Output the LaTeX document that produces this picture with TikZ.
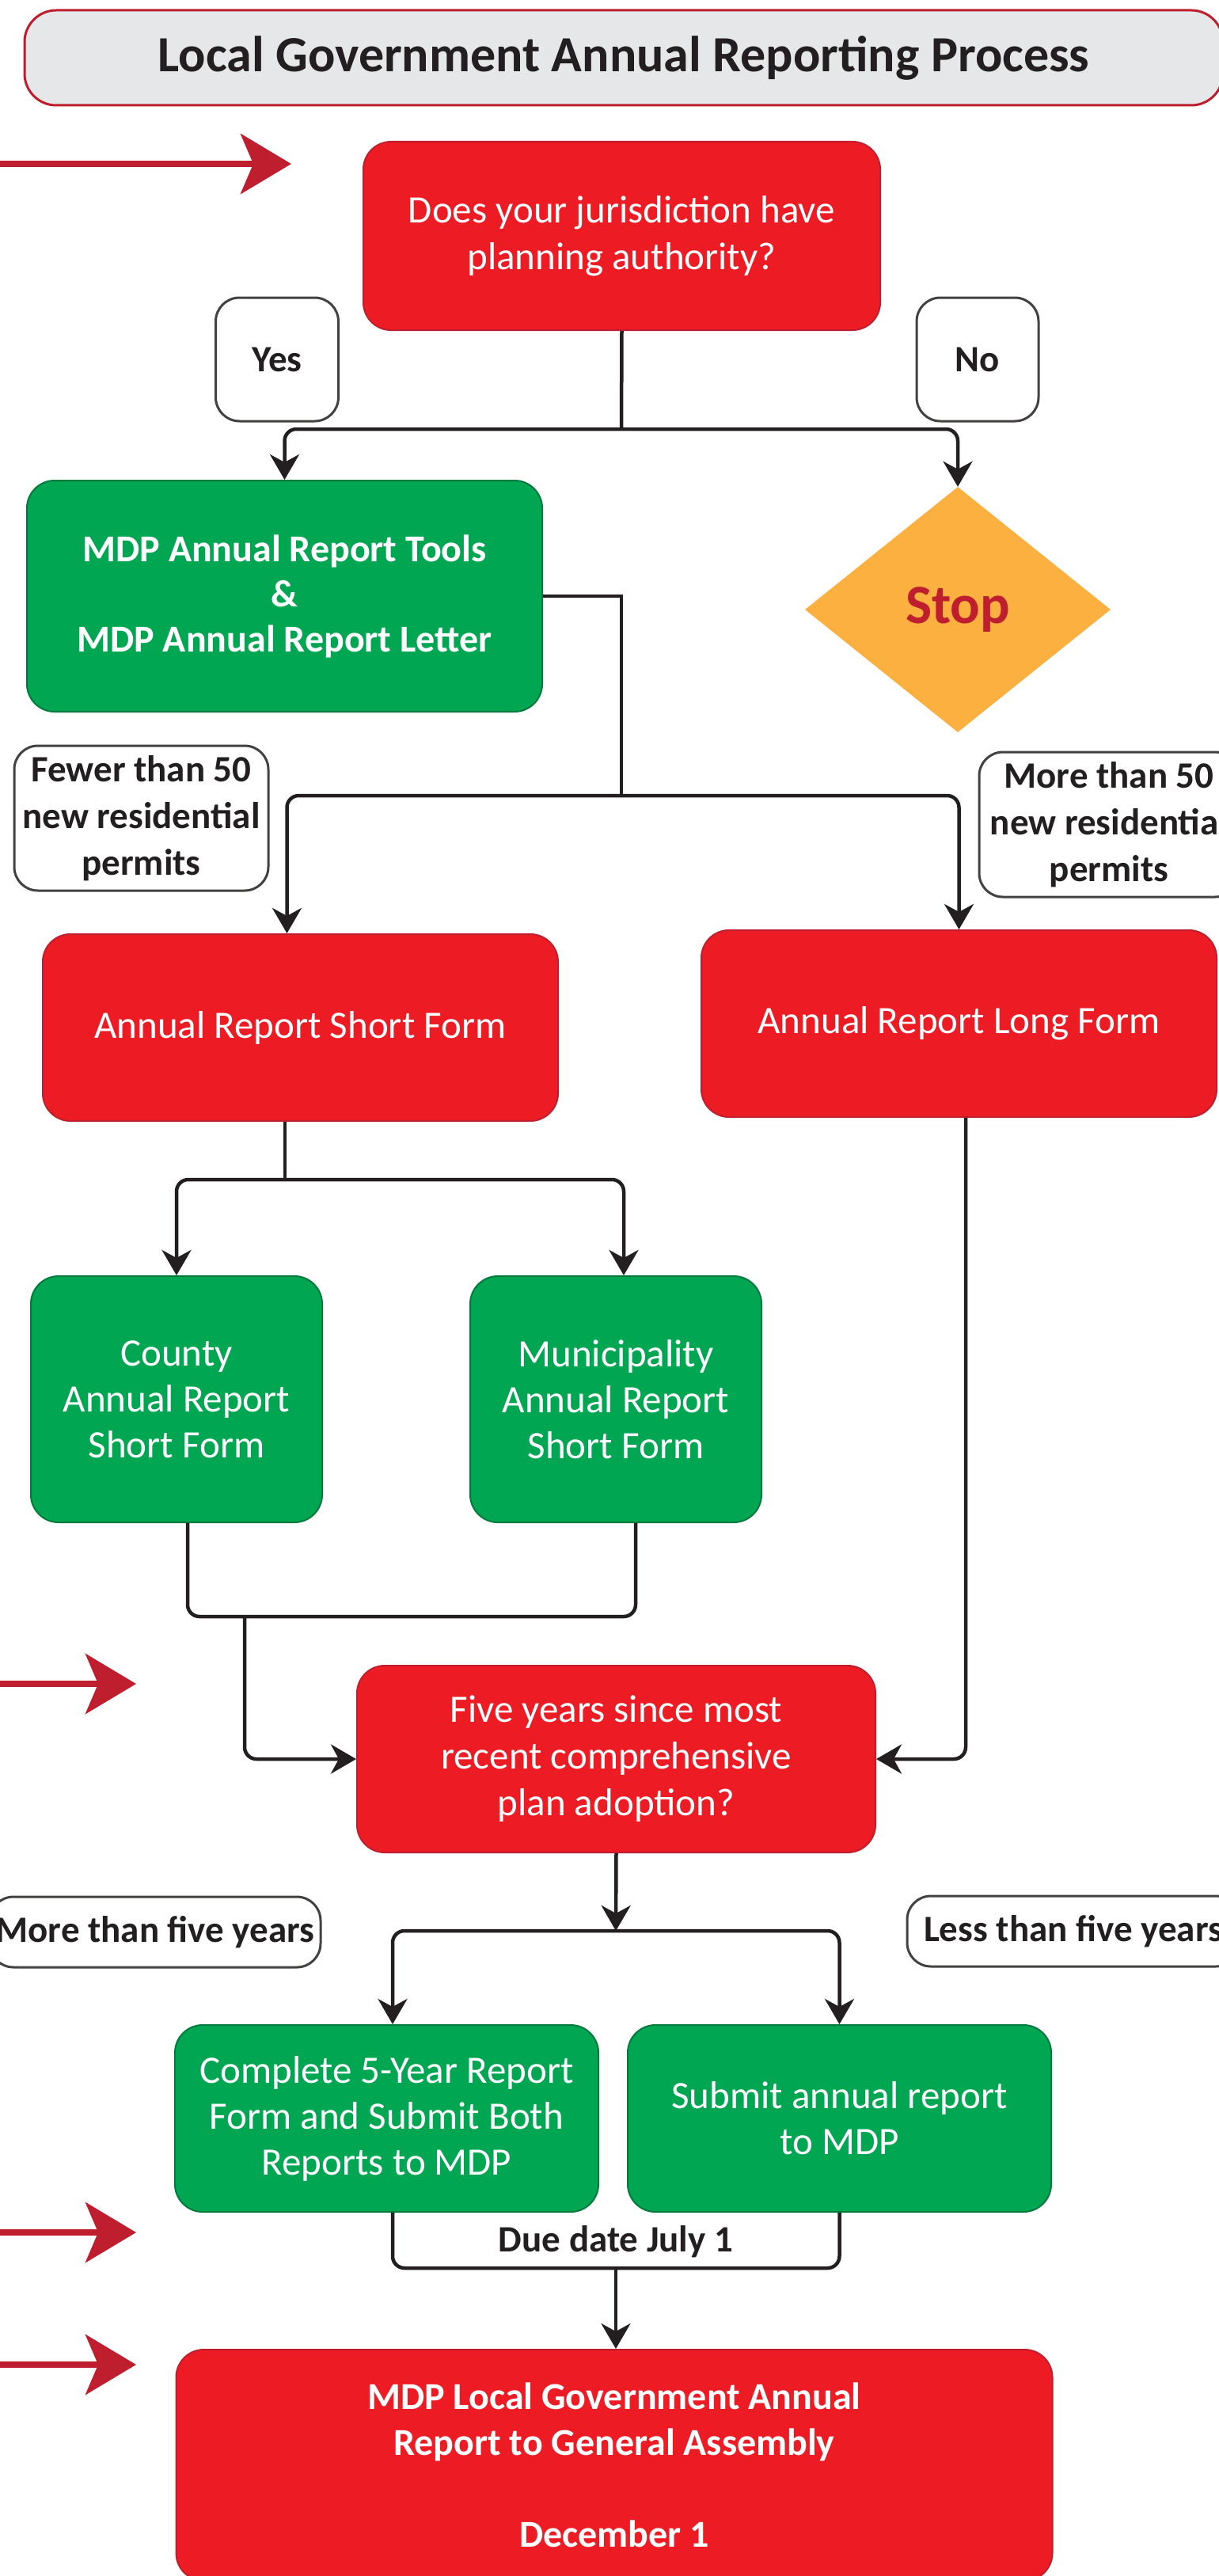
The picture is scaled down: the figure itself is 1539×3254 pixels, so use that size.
\documentclass[tikz,border=0pt]{standalone}
\usepackage{fontspec}
\setmainfont{Carlito}
\usetikzlibrary{arrows.meta,shapes.geometric,calc}
\definecolor{cred}{HTML}{ED1C24}
\definecolor{cdred}{HTML}{BE1E2D}
\definecolor{cgreen}{HTML}{00A651}
\definecolor{cdgreen}{HTML}{007A3D}
\definecolor{corange}{HTML}{FBB040}
\definecolor{cgray}{HTML}{E6E7E8}
\definecolor{cink}{HTML}{231F20}
\begin{document}
\begin{tikzpicture}[x=1pt,y=-1pt,
  redbox/.style={draw=cdred, line width=2pt, fill=cred, rounded corners=35pt, text=white, align=center, inner sep=0pt, font=\fontsize{49}{59}\selectfont},
  greenbox/.style={draw=cdgreen, line width=2pt, fill=cgreen, rounded corners=35pt, text=white, align=center, inner sep=0pt, font=\fontsize{49}{58}\selectfont},
  labelbox/.style={draw=cink!85, line width=3pt, fill=white, rounded corners=30pt, text=cink, align=center, inner sep=0pt, font=\bfseries\fontsize{47}{59}\selectfont},
  conn/.style={draw=cink, line width=4.5pt, rounded corners=15pt},
  arr/.style={conn, -{Stealth[length=32pt,width=37pt,inset=10pt]}},
  bigarrow/.style={draw=cdred, line width=8pt, -{Stealth[length=64pt,width=76pt,inset=16pt]}}
]
\useasboundingbox (0,0) rectangle (1539,3254);
\fill[white] (0,0) rectangle (1539,3254);

% title
\node[draw=cdred, line width=3pt, fill=cgray, rounded corners=40pt, minimum width=1514pt, minimum height=120pt, inner sep=0pt,
      text=cink, font=\bfseries\fontsize{64}{76}\selectfont] (title) at (788,73) {Local Government Annual Reporting Process};

% nodes
\node[redbox, minimum width=653pt, minimum height=238pt] (q1) at (785.5,298) {Does your jurisdiction have\\planning authority?};
\node[labelbox, minimum width=155pt, minimum height=156pt] (yes) at (350,454) {Yes};
\node[labelbox, minimum width=154pt, minimum height=156pt] (no) at (1235,454) {No};
\node[greenbox, minimum width=651pt, minimum height=292pt, font=\bfseries\fontsize{48}{57}\selectfont] (tools) at (359.5,753) {MDP Annual Report Tools\\\&\\MDP Annual Report Letter};
\node[diamond, fill=corange, minimum width=386pt, minimum height=310pt, inner sep=0pt, text=cdred, font=\bfseries\fontsize{70}{84}\selectfont] (stop) at (1210,770) {Stop};
\node[labelbox, minimum width=321pt, minimum height=183pt] (fewer) at (178.5,1033.5) {Fewer than 50\\new residential\\permits};
\node[labelbox, minimum width=328pt, minimum height=183pt] (more) at (1401,1041.5) {More than 50\\new residential\\permits};
\node[redbox, minimum width=651pt, minimum height=236pt] (short) at (379.5,1298) {Annual Report Short Form};
\node[redbox, minimum width=651pt, minimum height=236pt] (long) at (1211.5,1293) {Annual Report Long Form};
\node[greenbox, minimum width=368pt, minimum height=311pt] (county) at (223,1767.5) {County\\Annual Report\\Short Form};
\node[greenbox, minimum width=368pt, minimum height=311pt] (muni) at (778,1767.5) {Municipality\\Annual Report\\Short Form};
\node[redbox, minimum width=655pt, minimum height=236pt] (five) at (778.5,2222) {Five years since most\\recent comprehensive\\plan adoption?};
\node[labelbox, minimum width=418pt, minimum height=89pt] (morefive) at (196,2440.5) {More than five years};
\node[labelbox, minimum width=420pt, minimum height=89pt] (lessfive) at (1356,2439.5) {Less than five years};
\node[greenbox, minimum width=535pt, minimum height=236pt] (complete) at (488.5,2676) {Complete 5-Year Report\\Form and Submit Both\\Reports to MDP};
\node[greenbox, minimum width=535pt, minimum height=236pt] (submit) at (1060.5,2676) {Submit annual report\\to MDP};
\node[redbox, minimum width=1107pt, minimum height=292pt, font=\bfseries\fontsize{48}{58}\selectfont] (assembly) at (776,3114) {MDP Local Government Annual\\Report to General Assembly\\[58pt]December 1};
\node[text=cink, font=\bfseries\fontsize{47}{54}\selectfont, inner sep=0pt] (due) at (778,2832) {Due date July 1};

% junctions
\coordinate (j1) at (785,542);
\coordinate (j2a) at (785,753);
\coordinate (j2) at (785,1005);
\coordinate (j3) at (360,1490);
\coordinate (j4) at (309,2042);
\coordinate (j5) at (778,2439);
\coordinate (jd) at (778,2865);

% connectors
\draw[conn] (q1.south) -- (j1);
\draw[arr] (j1) -| (tools.north);
\draw[arr] (j1) -| (stop.north);
\draw[conn, rounded corners=0pt] (tools.east) -- (j2a) -- (j2);
\draw[arr] (j2) -| ([xshift=-17pt]short.north);
\draw[arr] (j2) -| (long.north);
\draw[conn] ([xshift=-19.5pt]short.south) -- (j3);
\draw[arr] (j3) -| (county.north);
\draw[arr] (j3) -| ([xshift=10pt]muni.north);
\draw[conn] ([xshift=14pt]county.south) |- (j4) -| ([xshift=25pt]muni.south);
\draw[arr] (j4) |- (five.west);
\draw[arr] ([xshift=8.5pt]long.south) |- (five.east);
\draw[arr, rounded corners=0pt] (five.south) -- (j5);
\draw[arr] (j5) -| ([xshift=7.5pt]complete.north);
\draw[arr] (j5) -| (submit.north);
\draw[conn] ([xshift=7.5pt]complete.south) |- (jd) -| (submit.south);
\draw[arr, rounded corners=0pt] (jd) -- (jd |- assembly.north);

% red pointer arrows
\coordinate (a1s) at (0,207); \coordinate (a1e) at (368,207);
\coordinate (a2s) at (0,2127); \coordinate (a2e) at (172,2127);
\coordinate (a3s) at (0,2820); \coordinate (a3e) at (172,2820);
\coordinate (a4s) at (0,2987); \coordinate (a4e) at (172,2987);
\draw[bigarrow] (a1s) -- (a1e);
\draw[bigarrow] (a2s) -- (a2e);
\draw[bigarrow] (a3s) -- (a3e);
\draw[bigarrow] (a4s) -- (a4e);
\end{tikzpicture}
\end{document}
